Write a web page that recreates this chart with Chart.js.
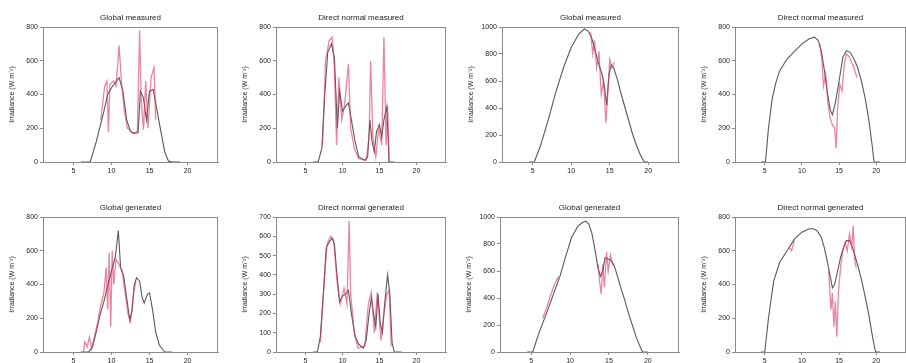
<!DOCTYPE html>
<html><head><meta charset="utf-8">
<script src="https://cdn.jsdelivr.net/npm/chart.js@4.4.1/dist/chart.umd.min.js"></script>
<style>
body{margin:0;background:#fff;width:906px;height:363px;overflow:hidden;position:relative;font-family:"Liberation Sans",Arial,sans-serif}
.p{position:absolute}
</style></head><body>
<script>
// ---------- data ----------
const titles = ["Global measured","Direct normal measured","Global measured","Direct normal measured",
                "Global generated","Direct normal generated","Global generated","Direct normal generated"];
const xTicks = [5,10,15,20];
const yMaxes = [800,800,1000,800,800,700,1000,800];
const ySteps = [200,200,200,200,200,100,200,200];
const yLabel = "Irradiance (W m\u207B\u00B2)";

// [hour, W m-2]; null = gap in the line
const p1Dark = [[6,0],[7.2,0],[8,120],[9,300],[9.5,400],[10,440],[10.5,470],[11,500],[11.5,420],[12,250],[12.5,180],[13,170],[13.5,175],[13.8,420],[14.2,380],[14.6,250],[15,420],[15.5,430],[16,300],[16.5,180],[17,60],[17.5,5],[18,0],[19,0]];
const p1Red  = [[8.6,250],[9.1,450],[9.4,480],[9.6,180],[9.8,460],[10.3,480],[10.6,450],[11,690],[11.3,480],[11.7,300],[12.1,200],[12.8,170],[13.4,180],[13.7,780],[13.9,380],[14.2,190],[14.5,480],[14.8,200],[15.2,500],[15.6,560],[15.8,250]];

const p2Dark = [[6,0],[6.7,0],[7.2,80],[7.6,400],[8,650],[8.5,700],[8.9,620],[9.3,200],[9.6,420],[10,300],[10.4,330],[10.8,350],[11.2,250],[11.7,120],[12.2,30],[13,10],[13.4,30],[13.7,250],[14,120],[14.3,60],[14.6,180],[15,220],[15.3,150],[15.6,250],[16,330],[16.3,0],[17,0]];
const p2Red  = [[7.3,100],[7.7,600],[8.2,720],[8.6,740],[8.9,560],[9.2,100],[9.5,500],[9.9,250],[10.3,350],[10.8,580],[11.1,200],[11.6,80],[12.2,20],[13.2,10],[13.6,150],[13.8,600],[14.1,150],[14.5,30],[14.9,200],[15.3,100],[15.6,740],[15.9,100],[16.1,330],[16.3,0]];

const p3Dark = [[4.5,0],[5.2,0],[6,120],[7,310],[8,520],[9,700],[10,850],[11,950],[11.7,985],[12.2,970],[12.6,930],[13,850],[13.3,780],[13.6,720],[14,650],[14.3,560],[14.6,420],[14.9,650],[15.2,720],[15.5,700],[16,610],[16.5,500],[17,400],[17.5,300],[18,200],[18.5,120],[19,50],[19.5,0],[20,0]];
const p3Red  = [[12.5,960],[12.8,800],[13.0,900],[13.3,700],[13.6,820],[13.9,500],[14.2,600],[14.5,290],[14.8,550],[15.0,760],[15.3,700],[15.6,740]];

const p4Dark = [[4.5,0],[5.1,0],[5.5,200],[6,375],[6.5,470],[7,540],[8,610],[9,655],[10,700],[11,730],[11.7,740],[12.2,720],[12.6,660],[13,550],[13.4,420],[13.8,310],[14.1,280],[14.5,350],[15,480],[15.5,620],[16,660],[16.5,650],[17,610],[17.5,560],[18,480],[18.5,380],[19,250],[19.5,80],[19.7,0],[20.5,0]];
const p4Red  = [[12.4,700],[12.7,600],[12.9,450],[13.2,520],[13.5,350],[13.8,260],[14.1,220],[14.4,200],[14.6,80],[14.8,320],[15.1,460],[15.4,420],[15.7,580],[16,640],[16.4,620],[17,560],[17.4,500]];

const p5Dark = [[6,0],[7,0],[7.5,30],[8,120],[8.5,220],[9,300],[9.5,390],[10,480],[10.5,560],[10.9,720],[11.2,500],[11.6,450],[12,320],[12.4,190],[12.7,240],[13,400],[13.3,440],[13.7,420],[14,330],[14.3,290],[14.7,340],[15,350],[15.4,250],[15.8,120],[16.3,40],[17,0],[18,0]];
const p5Red  = [[6.3,0],[6.5,60],[6.8,30],[7.1,90],[7.4,20],[7.8,100],[8.2,180],[8.6,280],[9.0,350],[9.3,500],[9.5,250],[9.7,590],[9.9,150],[10.1,600],[10.3,400],[10.6,550],[11,520],[11.4,480],[11.8,350],[12.2,220],[12.5,180],[12.9,350],[13.2,420]];

const p6Dark = [[6,0],[6.6,0],[7,80],[7.4,300],[7.8,540],[8.2,570],[8.6,590],[8.9,560],[9.2,420],[9.6,260],[10,290],[10.4,300],[10.8,320],[11.2,200],[11.7,80],[12.2,40],[12.8,20],[13.2,60],[13.6,200],[13.9,280],[14.2,200],[14.5,130],[14.8,300],[15.1,150],[15.4,100],[15.7,250],[16.1,400],[16.4,300],[16.7,50],[17,0],[18,0]];
const p6Red  = [[7.0,50],[7.5,350],[7.9,560],[8.4,600],[8.8,580],[9.3,350],[9.7,250],[10.2,330],[10.6,250],[10.9,680],[11.1,300],[11.6,100],[12.1,20],[13.0,30],[13.5,250],[13.9,310],[14.3,100],[14.7,310],[15.2,60],[15.6,200],[16.0,300],[16.3,320],[16.6,30]];

const p7Dark = [[4.5,0],[5.2,0],[6,140],[7,290],[8,450],[8.7,560],[9.5,720],[10.2,850],[11,930],[11.5,955],[12,970],[12.4,950],[12.8,880],[13.2,760],[13.6,620],[13.9,560],[14.2,600],[14.5,700],[14.8,690],[15.2,680],[15.6,650],[16,580],[16.5,480],[17,390],[17.5,290],[18,200],[18.5,110],[19,40],[19.3,0],[20,0]];
const p7Red  = [[6.5,250],[7,330],[7.5,420],[8,500],[8.5,560],[11,null],[13.6,650],[13.8,520],[14.0,430],[14.2,650],[14.4,480],[14.7,740],[14.9,600],[15.2,720],[15.5,640]];

const p8Dark = [[4.5,0],[5.0,0],[5.5,200],[6.2,420],[7,530],[8,600],[9,670],[10,710],[11,730],[11.5,730],[12,720],[12.6,680],[13,620],[13.4,540],[13.8,450],[14.1,380],[14.4,400],[14.8,480],[15.2,560],[15.6,620],[16,660],[16.4,660],[16.8,620],[17.2,560],[17.6,500],[18,430],[18.5,330],[19,220],[19.5,90],[19.9,0],[20.5,0]];
const p8Red  = [[8.3,620],[8.6,600],[9,660],[11,null],[13.6,480],[13.9,250],[14.1,350],[14.3,150],[14.5,300],[14.7,90],[14.9,350],[15.2,500],[15.5,600],[15.8,650],[16.1,600],[16.4,700],[16.7,620],[16.9,750],[17.1,550],[17.3,500]];

const darkSeries = [p1Dark,p2Dark,p3Dark,p4Dark,p5Dark,p6Dark,p7Dark,p8Dark];
const redSeries  = [p1Red,p2Red,p3Red,p4Red,p5Red,p6Red,p7Red,p8Red];

// ---------- layout (plot areas) ----------
const plotLeft  = [43,276,502,735, 43,276,500,735];
const plotRight = [218,446,679,906, 218,446,679,906];
const plotTop   = [27,27,27,27, 217,217,217,217];
const PH = 135, YW = 43, TOPPAD = 27, XH = 16, RPAD = 6;

const FONT = "'Liberation Sans', Arial, sans-serif";

const framePlugin = {
  id: 'frame',
  afterDatasetsDraw(chart, args, opts) {
    const {ctx, chartArea: a} = chart;
    ctx.save();
    ctx.strokeStyle = '#8a8a8a';
    ctx.lineWidth = 1;
    ctx.strokeRect(a.left + 0.5, a.top + 0.5, a.right - a.left - 1, a.bottom - a.top);
    ctx.fillStyle = '#222';
    ctx.font = "8px " + FONT;
    ctx.textAlign = 'center';
    ctx.textBaseline = 'alphabetic';
    ctx.fillText(opts.text, (a.left + a.right) / 2, a.top - 7);
    ctx.restore();
  }
};

for (let i = 0; i < 8; i++) {
  const div = document.createElement('div');
  div.className = 'p';
  const left = plotLeft[i] - YW, top = plotTop[i] - TOPPAD;
  const w = plotRight[i] - plotLeft[i] + YW + RPAD;
  const h = PH + TOPPAD + XH;
  div.style.left = left + 'px'; div.style.top = top + 'px';
  div.style.width = w + 'px'; div.style.height = h + 'px';
  const cv = document.createElement('canvas');
  div.appendChild(cv);
  document.body.appendChild(div);

  new Chart(cv, {
    type: 'line',
    data: {
      datasets: [
        { data: redSeries[i].map(p => ({x: p[0], y: p[1]})), borderColor: 'rgba(222,50,95,0.6)', borderWidth: 1.3, pointRadius: 0, tension: 0, spanGaps: false },
        { data: darkSeries[i].map(p => ({x: p[0], y: p[1]})), borderColor: 'rgba(60,60,60,0.85)', borderWidth: 1.1, pointRadius: 0, tension: 0 }
      ]
    },
    options: {
      responsive: true, maintainAspectRatio: false, animation: false,
      layout: { padding: { top: TOPPAD, right: RPAD, left: 0, bottom: 0 } },
      plugins: { legend: { display: false }, tooltip: { enabled: false }, frame: { text: titles[i] } },
      scales: {
        x: {
          type: 'linear', min: 1, max: 24,
          afterBuildTicks: ax => { ax.ticks = xTicks.map(v => ({value: v})); },
          afterFit: s => { s.height = XH; },
          grid: { display: true, drawOnChartArea: false, tickLength: 3, color: '#8a8a8a' },
          border: { display: true, color: '#8a8a8a' },
          ticks: { color: '#222', font: { size: 7, family: FONT }, padding: 2, maxRotation: 0, autoSkip: false, callback: v => String(v) }
        },
        y: {
          min: 0, max: yMaxes[i],
          ticks: { stepSize: ySteps[i], color: '#222', font: { size: 7, family: FONT }, padding: 2, callback: v => String(v) },
          afterFit: s => { s.width = YW; },
          grid: { display: true, drawOnChartArea: false, tickLength: 3, color: '#8a8a8a' },
          border: { display: true, color: '#8a8a8a' },
          title: { display: true, text: yLabel, color: '#222', font: { size: 7, family: FONT }, padding: { top: 8, bottom: 0 } }
        }
      }
    },
    plugins: [framePlugin]
  });
}
</script>
</body></html>
